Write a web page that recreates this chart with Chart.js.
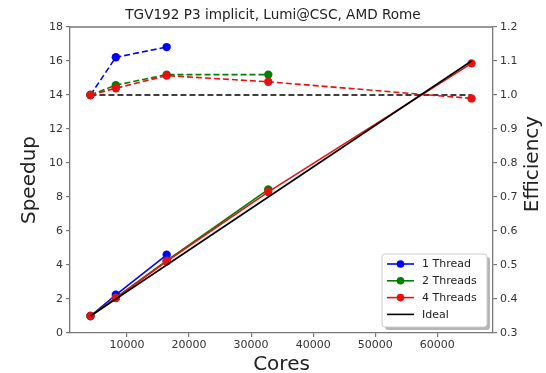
<!DOCTYPE html>
<html>
<head>
<meta charset="utf-8">
<script src="https://cdn.jsdelivr.net/npm/chart.js@4/dist/chart.umd.min.js"></script>
<style>
html,body{margin:0;padding:0;background:#fff;}
#wrap{width:546px;height:373px;position:relative;}
</style>
</head>
<body>
<div id="wrap"><canvas id="c" width="546" height="373"></canvas></div>
<script>
// ---- data ----
const cores      = [4096, 8192, 16384, 32768, 65536];
const speedup1   = [1, 2.25, 4.6];
const speedup2   = [1, 2.08, 4.25, 8.45];
const speedup4   = [1, 2.05, 4.22, 8.3, 15.86];
const speedupIdeal = [1, 2, 4, 8, 16];
const eff1       = [1.0, 1.111, 1.141];
const eff2       = [1.0, 1.029, 1.06, 1.06];
const eff4       = [1.0, 1.02, 1.057, 1.039, 0.99];
const effIdeal   = [1.0, 1.0, 1.0, 1.0, 1.0];
const seriesLabels = ['1 Thread', '2 Threads', '4 Threads', 'Ideal'];
const xTicks     = [10000, 20000, 30000, 40000, 50000, 60000];
const yTicks     = [0, 2, 4, 6, 8, 10, 12, 14, 16, 18];
const y2Ticks    = [0.3, 0.4, 0.5, 0.6, 0.7, 0.8, 0.9, 1.0, 1.1, 1.2];
const titleText  = 'TGV192 P3 implicit, Lumi@CSC, AMD Rome';

const BLUE = '#0000ff', GREEN = '#008000', RED = '#e81010', BLACK = '#000000';
const pts = (vals) => vals.map((v, i) => ({x: cores[i], y: v}));
const FONT = 'DejaVu Sans';

function ds(label, vals, color, axis, dashed, marker, order) {
  return {
    label: label, data: pts(vals), yAxisID: axis, order: order,
    borderColor: color, backgroundColor: color,
    borderWidth: 1.6, borderDash: dashed ? [6, 3] : [],
    pointRadius: marker ? 4.2 : 0, pointHoverRadius: marker ? 4.2 : 0,
    pointBorderWidth: 0, pointBackgroundColor: color,
    tension: 0, fill: false
  };
}

// Higher "order" is drawn first (underneath); lower order ends up on top.
const datasets = [
  ds('Ideal efficiency', effIdeal, BLACK, 'y2', true, false, 8),
  ds(seriesLabels[0], speedup1, BLUE, 'y', false, true, 7),
  ds(seriesLabels[0] + ' eff', eff1, BLUE, 'y2', true, true, 6),
  ds(seriesLabels[1], speedup2, GREEN, 'y', false, true, 5),
  ds(seriesLabels[1] + ' eff', eff2, GREEN, 'y2', true, true, 4),
  ds(seriesLabels[2], speedup4, RED, 'y', false, true, 3),
  ds(seriesLabels[2] + ' eff', eff4, RED, 'y2', true, true, 2),
  ds(seriesLabels[3], speedupIdeal, BLACK, 'y', false, false, 1)
];

const legendItems = [
  {text: seriesLabels[0], color: BLUE, marker: true},
  {text: seriesLabels[1], color: GREEN, marker: true},
  {text: seriesLabels[2], color: RED, marker: true},
  {text: seriesLabels[3], color: BLACK, marker: false}
];

const AXIS = '#777777';
const TICKC = '#333333';

const framePlugin = {
  id: 'frame',
  afterDatasetsDraw(chart) {
    const ctx = chart.ctx, a = chart.chartArea;
    ctx.save();
    ctx.strokeStyle = AXIS; ctx.lineWidth = 1.3;
    ctx.beginPath();
    ctx.moveTo(a.left, a.top); ctx.lineTo(a.right, a.top);
    ctx.stroke();
    ctx.restore();
  },
  afterDraw(chart) {
    const ctx = chart.ctx;
    // Efficiency label (reads bottom to top)
    ctx.save();
    ctx.fillStyle = '#222';
    ctx.font = '20px "' + FONT + '"';
    ctx.textAlign = 'center'; ctx.textBaseline = 'middle';
    ctx.translate(533, 164);
    ctx.rotate(-Math.PI / 2);
    ctx.fillText('Efficiency', 0, 0);
    ctx.restore();

    // Legend
    const bx = 382, by = 254, bw = 105, bh = 73;
    ctx.save();
    ctx.fillStyle = 'rgba(120,120,120,0.55)';
    roundRect(ctx, bx + 3, by + 3, bw, bh, 3); ctx.fill();
    ctx.fillStyle = '#ffffff';
    roundRect(ctx, bx, by, bw, bh, 3); ctx.fill();
    ctx.strokeStyle = '#cccccc'; ctx.lineWidth = 1;
    roundRect(ctx, bx, by, bw, bh, 3); ctx.stroke();
    ctx.font = '11px "' + FONT + '"';
    ctx.textAlign = 'left'; ctx.textBaseline = 'middle';
    legendItems.forEach((it, i) => {
      const y = 264 + i * 16.8;
      ctx.strokeStyle = it.color; ctx.lineWidth = 1.6;
      ctx.beginPath(); ctx.moveTo(387, y); ctx.lineTo(414, y); ctx.stroke();
      if (it.marker) {
        ctx.fillStyle = it.color;
        ctx.beginPath(); ctx.arc(400.5, y, 3.8, 0, Math.PI * 2); ctx.fill();
      }
      ctx.fillStyle = '#222';
      ctx.fillText(it.text, 422, y + 0.5);
    });
    ctx.restore();
  }
};

function roundRect(ctx, x, y, w, h, r) {
  ctx.beginPath();
  ctx.moveTo(x + r, y);
  ctx.lineTo(x + w - r, y); ctx.quadraticCurveTo(x + w, y, x + w, y + r);
  ctx.lineTo(x + w, y + h - r); ctx.quadraticCurveTo(x + w, y + h, x + w - r, y + h);
  ctx.lineTo(x + r, y + h); ctx.quadraticCurveTo(x, y + h, x, y + h - r);
  ctx.lineTo(x, y + r); ctx.quadraticCurveTo(x, y, x + r, y);
  ctx.closePath();
}

const tickFont = {family: FONT, size: 11};

new Chart(document.getElementById('c'), {
  type: 'line',
  data: {datasets: datasets},
  options: {
    responsive: false, animation: false,
    layout: {padding: 0},
    plugins: {
      legend: {display: false},
      tooltip: {enabled: false},
      title: {
        display: true, text: titleText, color: '#222',
        font: {family: FONT, size: 13.6, weight: 'normal', lineHeight: 1.2},
        padding: {top: 7.5, bottom: 3.2}
      }
    },
    scales: {
      x: {
        type: 'linear', position: 'bottom', min: 800, max: 69000,
        afterBuildTicks: (s) => { s.ticks = xTicks.map(v => ({value: v})); },
        afterFit: (s) => { s.height = 40; },
        ticks: {color: TICKC, font: tickFont, padding: 2, maxRotation: 0, autoSkip: false,
                callback: (v) => String(v)},
        grid: {drawOnChartArea: false, drawTicks: true, tickLength: 4, color: AXIS, lineWidth: 1.2},
        border: {display: true, color: AXIS, width: 1.3},
        title: {display: true, text: 'Cores', color: '#222',
                font: {family: FONT, size: 20, lineHeight: 0.8}, padding: {top: 0, bottom: 0}}
      },
      y: {
        type: 'linear', position: 'left', min: 0, max: 18,
        afterBuildTicks: (s) => { s.ticks = yTicks.map(v => ({value: v})); },
        afterFit: (s) => { s.width = 70; },
        ticks: {color: TICKC, font: tickFont, padding: 3, autoSkip: false},
        grid: {drawOnChartArea: false, drawTicks: true, tickLength: 4, color: AXIS, lineWidth: 1.2},
        border: {display: true, color: AXIS, width: 1.3},
        title: {display: true, text: 'Speedup', color: '#222',
                font: {family: FONT, size: 20, lineHeight: 1.2}, padding: {top: 18, bottom: 0}}
      },
      y2: {
        type: 'linear', position: 'right', min: 0.3, max: 1.2,
        afterBuildTicks: (s) => { s.ticks = y2Ticks.map(v => ({value: v})); },
        afterFit: (s) => { s.width = 53; },
        ticks: {color: TICKC, font: tickFont, padding: 3, autoSkip: false,
                callback: (v) => Number(v).toFixed(1)},
        grid: {drawOnChartArea: false, drawTicks: true, tickLength: 4, color: AXIS, lineWidth: 1.2},
        border: {display: true, color: AXIS, width: 1.3}
      }
    }
  },
  plugins: [framePlugin]
});
</script>
</body>
</html>
